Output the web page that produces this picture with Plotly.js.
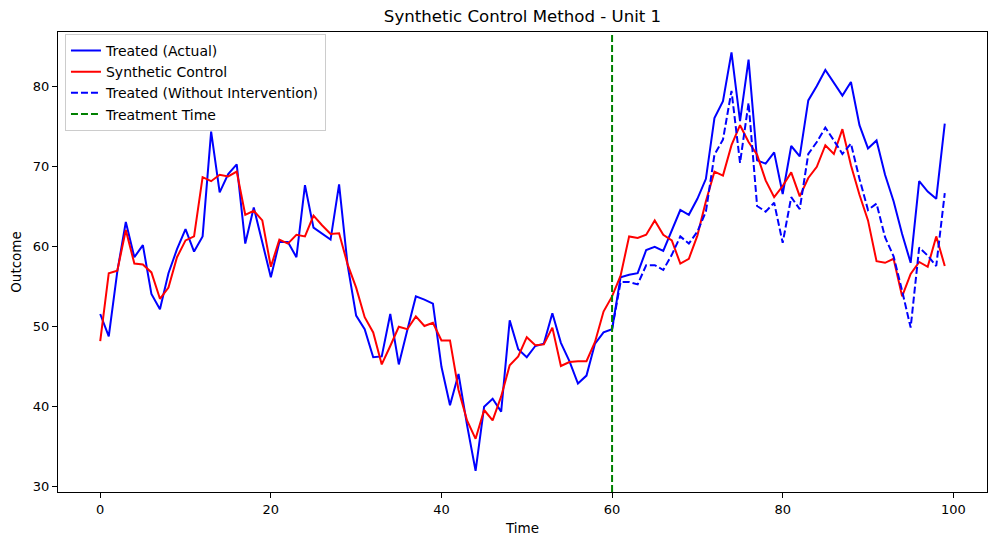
<!DOCTYPE html>
<html>
<head>
<meta charset="utf-8">
<script src="https://cdn.plot.ly/plotly-3.0.1.min.js"></script>
<style>html,body{margin:0;padding:0;background:#fff;}#chart{width:997px;height:545px;}</style>
</head>
<body>
<div id="chart"></div>
<script>
const time = [0,1,2,3,4,5,6,7,8,9,10,11,12,13,14,15,16,17,18,19,20,21,22,23,24,25,26,27,28,29,30,31,32,33,34,35,36,37,38,39,40,41,42,43,44,45,46,47,48,49,50,51,52,53,54,55,56,57,58,59,60,61,62,63,64,65,66,67,68,69,70,71,72,73,74,75,76,77,78,79,80,81,82,83,84,85,86,87,88,89,90,91,92,93,94,95,96,97,98,99];

const treatedActual = [51.5,48.7,56.8,63.0,58.6,60.1,54.0,52.1,56.6,59.6,62.1,59.3,61.2,74.3,66.7,69.0,70.2,60.3,64.8,60.5,
  56.1,60.5,60.5,58.6,67.6,62.3,61.5,60.8,67.7,57.6,51.3,49.6,46.1,46.2,51.5,45.2,49.5,53.7,53.3,52.8,
  44.9,40.1,44.0,37.6,31.9,39.9,40.9,39.3,50.7,47.1,46.1,47.5,47.8,51.6,47.9,45.6,42.8,43.8,47.8,49.2,
  49.6,56.1,56.4,56.6,59.5,59.9,59.4,62.0,64.5,63.9,65.9,68.4,76.0,78.1,84.2,75.6,83.3,70.7,70.3,71.7,
  66.5,72.5,71.2,78.2,80.0,82.0,80.4,78.8,80.5,75.1,72.2,73.2,68.9,65.6,61.5,57.9,68.1,66.8,65.9,75.3];

const syntheticControl = [48.1,56.6,56.9,62.0,57.8,57.7,56.7,53.4,54.8,58.6,60.7,61.2,68.6,68.1,68.9,68.7,69.3,63.9,64.4,63.2,
  57.4,60.8,60.3,61.4,61.2,63.8,62.6,61.5,61.6,57.7,54.8,51.1,49.2,45.2,47.5,49.9,49.6,51.2,50.0,50.4,
  48.2,48.2,42.0,38.2,35.9,39.5,38.2,41.2,45.1,46.2,48.6,47.6,47.7,49.8,45.0,45.5,45.6,45.6,48.0,51.8,
  53.7,56.3,61.2,61.0,61.4,63.2,61.4,60.7,57.8,58.4,61.3,65.6,69.3,68.8,72.6,75.1,73.0,71.4,68.2,66.1,
  67.5,69.2,66.2,68.5,69.9,72.6,71.5,74.6,70.1,66.4,63.2,58.1,57.9,58.4,53.7,56.5,58.0,57.4,61.2,57.5];

const postTime = [60,61,62,63,64,65,66,67,68,69,70,71,72,73,74,75,76,77,78,79,80,81,82,83,84,85,86,87,88,89,90,91,92,93,94,95,96,97,98,99];
const treatedWithout = [49.6,55.5,55.5,55.2,57.6,57.6,57.0,58.9,61.2,60.3,61.8,64.3,71.4,73.3,79.4,70.4,77.9,65.0,64.3,65.4,
  60.4,66.1,64.6,71.5,73.0,74.8,73.2,71.5,72.8,68.4,64.5,65.3,61.1,58.7,54.4,49.8,59.8,58.8,57.5,66.6];

const treatmentTime = 60;
const xTicks = [0,20,40,60,80,100];
const yTicks = [30,40,50,60,70,80];

const FONT = 'DejaVu Sans, sans-serif';

const traces = [
  {x: time, y: treatedActual, type: 'scatter', mode: 'lines', name: 'Treated (Actual)',
   line: {color: '#0000ff', width: 2}},
  {x: time, y: syntheticControl, type: 'scatter', mode: 'lines', name: 'Synthetic Control',
   line: {color: '#ff0000', width: 2}},
  {x: postTime, y: treatedWithout, type: 'scatter', mode: 'lines', name: 'Treated (Without Intervention)',
   line: {color: '#0000ff', width: 2, dash: '7px,3px'}},
  {x: [null], y: [null], type: 'scatter', mode: 'lines', name: 'Treatment Time', showlegend: true,
   line: {color: '#008000', width: 2, dash: '7px,3px'}}
];

const layout = {
  width: 997, height: 545,
  margin: {l: 58, r: 10, t: 32, b: 53, pad: 0},
  paper_bgcolor: '#ffffff', plot_bgcolor: '#ffffff',
  font: {family: FONT, size: 13, color: '#000'},
  title: {text: 'Synthetic Control Method - Unit 1', font: {family: FONT, size: 16.6, color: '#000'},
          x: 0.5, xref: 'paper', xanchor: 'center', y: 1 - 16/545, yref: 'container', yanchor: 'middle'},
  xaxis: {
    range: [-4.95, 103.95], tickvals: xTicks, ticktext: xTicks.map(String),
    showgrid: false, zeroline: false, showline: true, mirror: true, linecolor: '#000', linewidth: 1,
    ticks: 'outside', ticklen: 5, tickwidth: 1, tickcolor: '#000',
    tickfont: {family: FONT, size: 13, color: '#000'},
    title: {text: 'Time', font: {family: FONT, size: 13.5, color: '#000'}, standoff: 7}
  },
  yaxis: {
    range: [29.25, 86.75], tickvals: yTicks, ticktext: yTicks.map(String),
    showgrid: false, zeroline: false, showline: true, mirror: true, linecolor: '#000', linewidth: 1,
    ticks: 'outside', ticklen: 5, tickwidth: 1, tickcolor: '#000',
    tickfont: {family: FONT, size: 13, color: '#000'},
    title: {text: 'Outcome', font: {family: FONT, size: 13.5, color: '#000'}, standoff: 8}
  },
  shapes: [{type: 'line', xref: 'x', yref: 'paper', x0: treatmentTime, x1: treatmentTime, y0: 0, y1: 1,
            line: {color: '#008000', width: 2, dash: '7px,3px'}}],
  legend: {x: 0.0075, y: 0.996, xanchor: 'left', yanchor: 'top',
           bgcolor: 'rgba(255,255,255,0.8)', bordercolor: '#cccccc', borderwidth: 1,
           font: {family: FONT, size: 14, color: '#000'}, tracegroupgap: 0},
  showlegend: true
};

Plotly.newPlot('chart', traces, layout, {displayModeBar: false, staticPlot: true});
</script>
</body>
</html>
